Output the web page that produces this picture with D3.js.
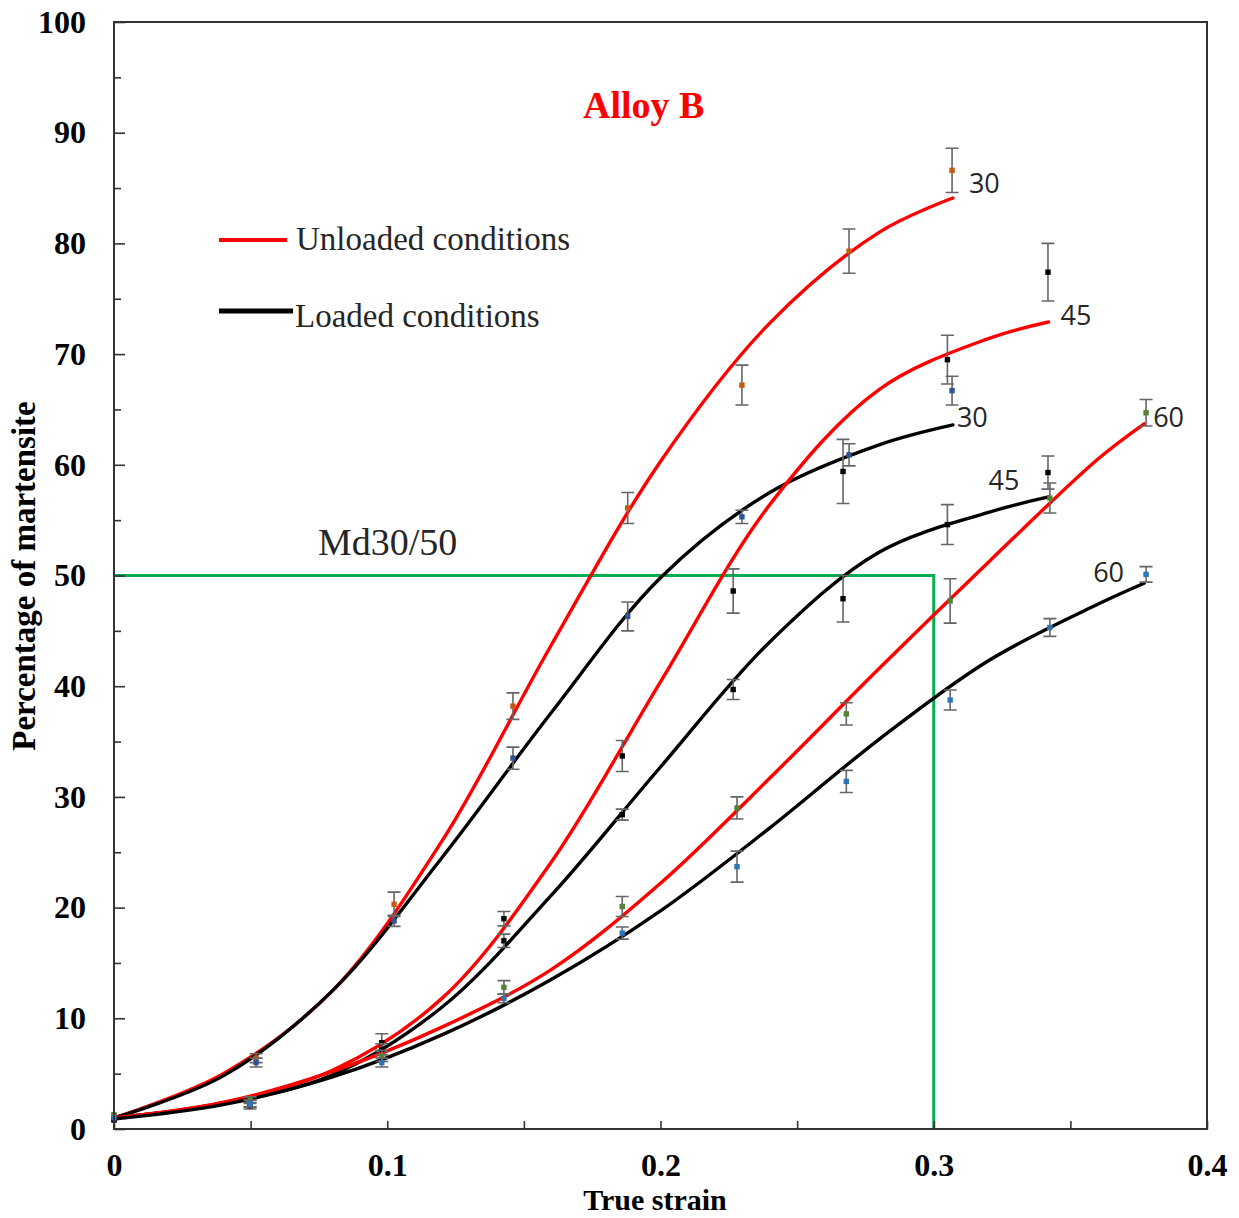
<!DOCTYPE html>
<html>
<head>
<meta charset="utf-8">
<script src="https://cdn.jsdelivr.net/npm/d3@7"></script>
<style>
  html, body { margin: 0; padding: 0; background: #fff; }
  svg { display: block; }
</style>
</head>
<body>
<svg id="chart" width="1239" height="1218"></svg>
<script>
// ---- Fitted transformation curves: [true strain, % martensite] ----
const fitUnloaded30 = [[0,1.0],[0.04,5.0],[0.08,12.5],[0.12,26.0],[0.16,43.7],[0.2,60.3],[0.24,72.8],[0.28,81.0],[0.307,84.1]];
const fitLoaded30   = [[0,1.0],[0.04,4.8],[0.08,12.5],[0.12,24.5],[0.16,37.6],[0.2,49.8],[0.24,57.5],[0.28,61.8],[0.307,63.6]];
const fitUnloaded45 = [[0,1.0],[0.04,2.4],[0.08,5.3],[0.12,11.8],[0.16,24.1],[0.2,40.4],[0.24,56.4],[0.28,66.8],[0.32,71.4],[0.342,72.9]];
const fitLoaded45   = [[0,1.0],[0.04,2.3],[0.08,4.9],[0.12,11.0],[0.16,21.1],[0.2,32.7],[0.24,44.0],[0.28,52.1],[0.32,55.7],[0.342,57.1]];
const fitUnloaded60 = [[0,1.0],[0.04,2.4],[0.08,5.2],[0.12,9.2],[0.16,14.4],[0.2,22.2],[0.24,31.7],[0.28,41.6],[0.32,51.2],[0.36,60.5],[0.377,63.7]];
const fitLoaded60   = [[0,0.9],[0.04,2.2],[0.08,4.7],[0.12,8.5],[0.16,13.5],[0.2,19.7],[0.24,27.2],[0.28,35.2],[0.32,42.3],[0.36,47.4],[0.377,49.3]];

// ---- Measured points: [true strain, % martensite, error] ----
const ptsUnloaded30 = [[0,1.2,0],[0.052,6.4,0.4],[0.1025,20.3,1.1],[0.146,38.2,1.2],[0.188,56.1,1.4],[0.2298,67.2,1.8],[0.269,79.3,2.0],[0.3067,86.6,2.0]];
const ptsLoaded30   = [[0,1.0,0],[0.052,6.0,0.4],[0.1025,18.8,0.5],[0.146,33.5,1.0],[0.188,46.3,1.3],[0.2298,55.3,0.6],[0.269,60.9,1.0],[0.3067,66.7,1.3]];
const ptsUnloaded45 = [[0,0.9,0],[0.0498,2.3,0.3],[0.098,7.8,0.8],[0.1427,19.0,0.65],[0.186,33.7,1.4],[0.2266,48.6,2.0],[0.2668,59.4,2.9],[0.305,69.5,2.2],[0.3418,77.4,2.6]];
const ptsLoaded45   = [[0,0.8,0],[0.0498,2.1,0.3],[0.098,7.2,0.5],[0.1427,17.0,0.6],[0.186,28.4,0.5],[0.2266,39.7,0.9],[0.2668,47.9,2.1],[0.305,54.6,1.8],[0.3418,59.3,1.5]];
const ptsUnloaded60 = [[0,1.3,0],[0.0498,2.6,0.3],[0.098,6.6,0.5],[0.1427,12.8,0.6],[0.186,20.1,0.9],[0.228,29.0,1.0],[0.268,37.5,1.0],[0.306,47.7,2.0],[0.3425,57.0,1.35],[0.3777,64.7,1.2]];
const ptsLoaded60   = [[0,1.0,0],[0.0498,2.3,0.3],[0.098,6.0,0.4],[0.1427,11.8,0.4],[0.186,17.7,0.55],[0.228,23.7,1.4],[0.268,31.4,1.0],[0.306,38.75,0.9],[0.3425,45.3,0.8],[0.3777,50.1,0.7]];

// ---- Curve end labels (temperature) ----
const curveLabels = ["30", "30", "45", "45", "60", "60"];

// ---- Axis ticks ----
const yMajorTicks = [0,10,20,30,40,50,60,70,80,90,100];
const yMinorTicks = [5,15,25,35,45,55,65,75,85,95];
const xTicks = [0,0.05,0.1,0.15,0.2,0.25,0.3,0.35,0.4];
const xTickLabels = ["0","","0.1","","0.2","","0.3","","0.4"];

// ---- Md30/50 reference ----
const mdLevel = [50];
const mdStrain = [0.3];

// ---- Texts ----
const titleText = "Alloy B";
const legendTexts = ["Unloaded conditions", "Loaded conditions"];
const xTitle = "True strain";
const yTitle = "Percentage of martensite";
const mdText = "Md30/50";

const svg = d3.select("#chart");
const W = 1239, H = 1218;
const m = { left: 114, top: 22, right: 32, bottom: 89 };

const x = d3.scaleLinear().domain([0, 0.4]).range([m.left, W - m.right]);
const y = d3.scaleLinear().domain([0, 100]).range([H - m.bottom, m.top]);

const serif = "'Liberation Serif', 'Times New Roman', serif";
const sans = "'Open Sans', 'Liberation Sans', sans-serif";

// Md30/50 guide lines (green)
svg.append("path")
  .attr("d", `M${x(0)},${y(mdLevel[0])}H${x(mdStrain[0])}V${y(0)}`)
  .attr("fill", "none").attr("stroke", "#00B050").attr("stroke-width", 3);

// Fitted curves
const line = d3.line().x(d => x(d[0])).y(d => y(d[1])).curve(d3.curveCatmullRom.alpha(0.5));
const fits = [
  { data: fitUnloaded30, color: "#FF0000" },
  { data: fitLoaded30,   color: "#000000" },
  { data: fitUnloaded45, color: "#FF0000" },
  { data: fitLoaded45,   color: "#000000" },
  { data: fitUnloaded60, color: "#FF0000" },
  { data: fitLoaded60,   color: "#000000" }
];
svg.append("g").selectAll("path").data(fits).join("path")
  .attr("d", d => line(d.data))
  .attr("fill", "none")
  .attr("stroke", d => d.color)
  .attr("stroke-width", 3.4)
  .attr("stroke-linecap", "round");

// Measured points with error bars
const pointSets = [
  { data: ptsUnloaded30, color: "#C55A11" },
  { data: ptsLoaded30,   color: "#2F5597" },
  { data: ptsUnloaded45, color: "#000000" },
  { data: ptsLoaded45,   color: "#000000" },
  { data: ptsUnloaded60, color: "#548235" },
  { data: ptsLoaded60,   color: "#2E75B6" }
];
const cap = 6.5;
pointSets.forEach(set => {
  const g = svg.append("g");
  set.data.filter(d => d[2] > 0).forEach(d => {
    const cx = x(d[0]), y1 = y(d[1] + d[2]), y0 = y(d[1] - d[2]);
    g.append("path")
      .attr("d", `M${cx},${y1}V${y0}M${cx - cap},${y1}H${cx + cap}M${cx - cap},${y0}H${cx + cap}`)
      .attr("fill", "none").attr("stroke", "#666").attr("stroke-width", 1.6);
  });
  g.selectAll("rect").data(set.data).join("rect")
    .attr("x", d => x(d[0]) - 2.7).attr("y", d => y(d[1]) - 2.7)
    .attr("width", 5.4).attr("height", 5.4)
    .attr("fill", set.color);
});

// Curve end labels
const labelPos = [
  { fit: fitUnloaded30, dx: 16,  dy: -5 },
  { fit: fitLoaded30,   dx: 4,   dy: 2 },
  { fit: fitUnloaded45, dx: 12,  dy: 3 },
  { fit: fitLoaded45,   dx: -60, dy: -7 },
  { fit: fitUnloaded60, dx: 9,   dy: 3 },
  { fit: fitLoaded60,   dx: -51, dy: -1 }
];
svg.append("g").selectAll("text").data(labelPos).join("text")
  .attr("x", d => x(d.fit[d.fit.length - 1][0]) + d.dx)
  .attr("y", d => y(d.fit[d.fit.length - 1][1]) + d.dy)
  .attr("font-family", sans).attr("font-size", 27).attr("fill", "#262626")
  .text((d, i) => curveLabels[i]);

// Axes (ticks point inward)
const yAxis = d3.axisLeft(y).tickValues(yMajorTicks).tickSize(-11).tickPadding(28).tickFormat(d3.format("d"));
const yMinor = d3.axisLeft(y).tickValues(yMinorTicks).tickSize(-7).tickFormat("");
const xAxis = d3.axisBottom(x).tickValues(xTicks).tickSize(-8).tickPadding(24)
  .tickFormat((d, i) => xTickLabels[i]);

const gy = svg.append("g").attr("transform", `translate(${x(0)},0)`).call(yAxis);
svg.append("g").attr("transform", `translate(${x(0)},0)`).call(yMinor).select(".domain").remove();
const gx = svg.append("g").attr("transform", `translate(0,${y(0)})`).call(xAxis);

[gy, gx].forEach(g => {
  g.selectAll("text").attr("font-family", serif).attr("font-weight", "bold").attr("font-size", 32).attr("fill", "#000");
});
svg.selectAll(".domain").remove();
svg.selectAll(".tick line").attr("stroke", "#333").attr("stroke-width", 1.6);

// Plot frame
svg.append("rect")
  .attr("x", x(0)).attr("y", y(100))
  .attr("width", x(0.4) - x(0)).attr("height", y(0) - y(100))
  .attr("fill", "none").attr("stroke", "#333").attr("stroke-width", 2);

// Axis titles
svg.append("text")
  .attr("x", 655).attr("y", 1210)
  .attr("text-anchor", "middle")
  .attr("font-family", serif).attr("font-weight", "bold").attr("font-size", 30)
  .text(xTitle);
svg.append("text")
  .attr("transform", `translate(35,576) rotate(-90)`)
  .attr("text-anchor", "middle")
  .attr("font-family", serif).attr("font-weight", "bold").attr("font-size", 33)
  .text(yTitle);

// Title
svg.append("text")
  .attr("x", 583).attr("y", 118)
  .attr("font-family", serif).attr("font-weight", "bold").attr("font-size", 38)
  .attr("fill", "#FF0000")
  .text(titleText);

// Legend
const legendItems = [
  { color: "#FF0000", x2: 287, ly: 240, ty: 250, tx: 296, w: 4 },
  { color: "#000000", x2: 293, ly: 311, ty: 327, tx: 295, w: 5 }
];
const lg = svg.append("g");
legendItems.forEach((d, i) => {
  lg.append("line").attr("x1", 219).attr("x2", d.x2).attr("y1", d.ly).attr("y2", d.ly)
    .attr("stroke", d.color).attr("stroke-width", d.w);
  lg.append("text").attr("x", d.tx).attr("y", d.ty)
    .attr("font-family", serif).attr("font-size", 33).attr("fill", "#262626")
    .text(legendTexts[i]);
});

// Md30/50 label
svg.append("text")
  .attr("x", 318).attr("y", 555)
  .attr("font-family", serif).attr("font-size", 38).attr("fill", "#262626")
  .text(mdText);
</script>
</body>
</html>
